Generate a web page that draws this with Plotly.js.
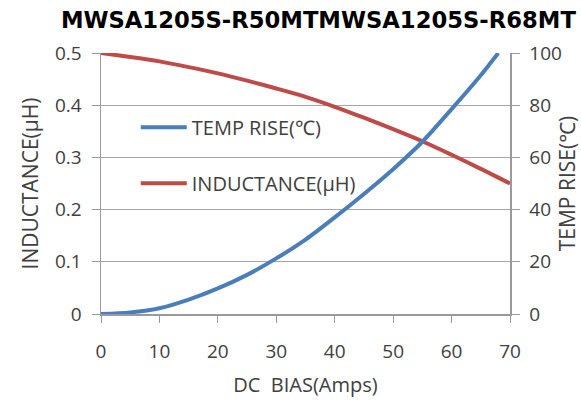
<!DOCTYPE html>
<html>
<head>
<meta charset="utf-8">
<script src="https://cdn.plot.ly/plotly-3.0.1.min.js"></script>
<style>html,body{margin:0;padding:0;background:#fff;}#chart{width:581px;height:403px;}</style>
</head>
<body>
<div id="chart"></div>
<script>
const chartTitle = "MWSA1205S-R50MTMWSA1205S-R68MT";
const biasTemp = [0, 5, 10, 15, 20, 25, 30, 35, 40, 45, 50, 55, 60, 65, 68];
const tempRise = [0, 0.6, 2.2, 5.5, 9.8, 15, 21.3, 28.5, 37, 46, 55.5, 66, 78.5, 91.5, 100];
const biasInd = [0, 5, 10, 15, 20, 25, 30, 35, 40, 45, 50, 55, 60, 65, 70];
const inductance = [0.5, 0.4925, 0.484, 0.473, 0.461, 0.447, 0.432, 0.416, 0.397, 0.376, 0.354, 0.331, 0.305, 0.278, 0.25];
const xTicks = [0, 10, 20, 30, 40, 50, 60, 70];
const yTicks = [0, 0.1, 0.2, 0.3, 0.4, 0.5];
const yTickLabels = ["0", "0.1", "0.2", "0.3", "0.4", "0.5"];
const y2Ticks = [0, 20, 40, 60, 80, 100];

const fam = "Open Sans, Noto Sans, sans-serif";
const tickFont = {family: fam, size: 19, color: "#404040"};
const traces = [
  {x: biasTemp, y: tempRise, yaxis: "y2", type: "scatter", mode: "lines", name: "TEMP RISE(℃)",
   line: {color: "#4a7ebb", width: 4, shape: "spline", smoothing: 0.8}, legendgroup: "a"},
  {x: biasInd, y: inductance, yaxis: "y", type: "scatter", mode: "lines", name: "INDUCTANCE(μH)",
   line: {color: "#be4b48", width: 4, shape: "spline", smoothing: 0.8}, legendgroup: "b"}
];
const layout = {
  width: 581, height: 403,
  margin: {l: 101, r: 71, t: 53, b: 89},
  paper_bgcolor: "#fff", plot_bgcolor: "#fff",
  showlegend: true,
  title: {text: "<b>" + chartTitle + "</b>", x: 0.548, xanchor: "center", y: 0.95, yanchor: "middle",
          font: {family: "DejaVu Sans, sans-serif", size: 22.7, color: "#000"}},
  xaxis: {range: [0, 70], tickvals: xTicks, ticks: "outside", ticklen: 7, tickcolor: "#9a9a9a",
          showgrid: false, zeroline: false, showline: true, linecolor: "#9a9a9a", linewidth: 1.5,
          tickfont: tickFont, ticklabelstandoff: 13,
          title: {text: "DC  BIAS(Amps)", font: {family: fam, size: 20, color: "#404040"}, standoff: 14}},
  yaxis: {range: [0, 0.5], tickvals: yTicks, ticktext: yTickLabels, ticks: "outside", ticklen: 8, tickcolor: "#9a9a9a",
          showgrid: true, gridcolor: "#a6a6a6", gridwidth: 1.3, zeroline: false, showline: true, linecolor: "#9a9a9a", linewidth: 1.5,
          tickfont: tickFont, ticklabelstandoff: 6,
          title: {text: "INDUCTANCE(μH)", font: {family: fam, size: 21, color: "#404040"}, standoff: 10}},
  yaxis2: {range: [0, 100], tickvals: y2Ticks, overlaying: "y", side: "right", ticks: "outside", ticklen: 8, tickcolor: "#9a9a9a",
          showgrid: false, zeroline: false, showline: true, linecolor: "#9a9a9a", linewidth: 1.5,
          tickfont: tickFont, ticklabelstandoff: 6,
          title: {text: "TEMP RISE(℃)", font: {family: fam, size: 21, color: "#404040"}, standoff: 14}},
  legend: {x: 0.085, y: 0.79, xanchor: "left", yanchor: "top", bgcolor: "rgba(255,255,255,0)",
           font: {family: fam, size: 20, color: "#404040"},
           traceorder: "grouped", tracegroupgap: 27, itemwidth: 46}
};
Plotly.newPlot("chart", traces, layout, {displayModeBar: false, staticPlot: true});
</script>
</body>
</html>
